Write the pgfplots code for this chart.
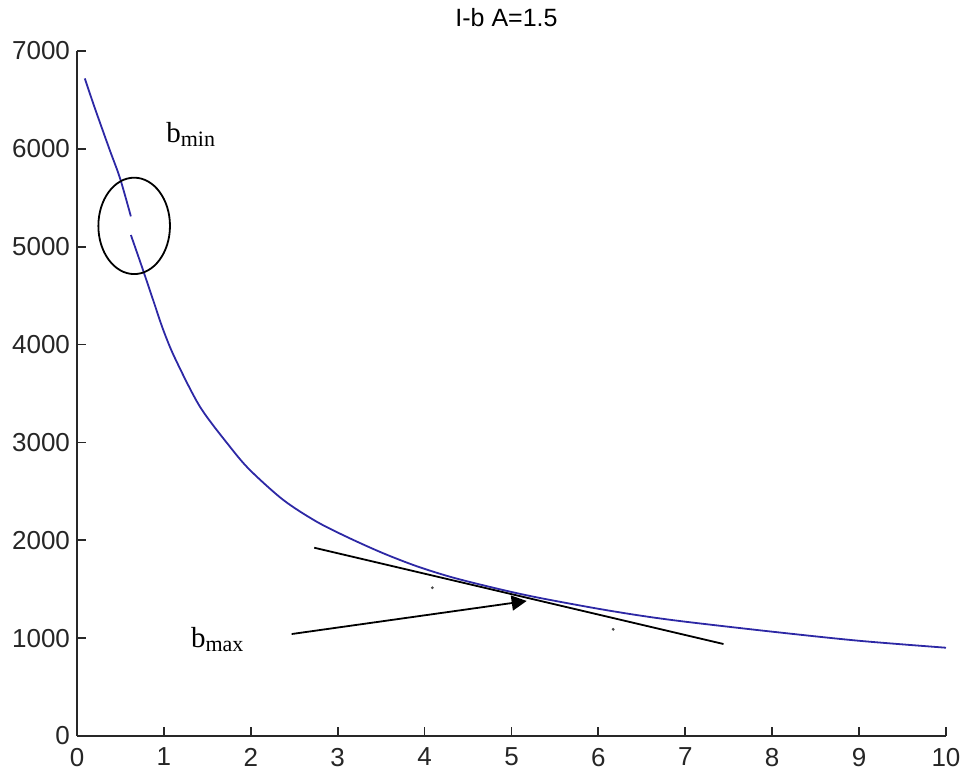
\documentclass[border=0pt]{standalone}
\usepackage{pgfplots}
\pgfplotsset{compat=1.18}
\usepackage{fontspec}
\setmainfont{Liberation Serif}
\newfontfamily\sans{Liberation Sans}
\usetikzlibrary{arrows.meta}
\definecolor{curveblue}{RGB}{45,40,165}
\definecolor{axgray}{RGB}{40,40,40}
\begin{document}
\begin{tikzpicture}
\useasboundingbox (-38.5pt,-17.5pt) rectangle (441.5pt,368pt);
\begin{axis}[
  scale only axis,
  width=434.5pt, height=342.5pt,
  xmin=0, xmax=10, ymin=0, ymax=7000,
  axis x line=bottom, axis y line=left,
  axis line style={-, axgray, line width=0.9pt},
  xtick={0,1,...,10}, ytick={0,1000,...,7000},
  tick align=inside,
  major tick length=4.5pt,
  tick style={axgray, line width=0.9pt},
  ticklabel style={font=\sans\fontsize{13}{14}\selectfont, text=black!85},
  /pgf/number format/assume math mode=true,
  /pgf/number format/1000 sep={},
  scaled y ticks=false,
  xticklabel style={yshift=-2.5pt},
  title={\sans\fontsize{12.5}{14}\selectfont I-b A=1.5},
  title style={at={(0.5,1)}, anchor=center, yshift=10.5pt, xshift=-2.5pt},
  clip=false,
]
\addplot[curveblue, line width=0.9pt, smooth] coordinates {
(0.09,6720) (0.2,6430) (0.372,6000) (0.495,5700) (0.62,5310)
};
\addplot[curveblue, line width=0.9pt, smooth] coordinates {
(0.62,5120) (0.745,4800) (0.88,4445) (0.993,4149) (1.128,3860) (1.415,3365)
(1.76,2956) (1.99,2718) (2.374,2412) (2.758,2190) (3.14,2020) (3.525,1867)
(3.909,1735) (4.29,1628) (4.675,1540) (5.06,1460) (5.405,1397) (6.0,1300)
(6.5,1228) (7.0,1168) (8.0,1066) (9.0,973) (10.0,902)
};
\addplot[only marks, mark=*, mark size=0.5pt, black!70] coordinates {(4.09,1515) (6.17,1090)};
% annotations
\draw[black, line width=0.9pt] (axis cs:0.658,5213) ellipse [x radius=17.9pt, y radius=24.1pt];
\draw[black, line width=0.9pt] (axis cs:2.73,1924) -- (axis cs:7.44,940);
\draw[black, line width=0.9pt, -{Triangle[length=7.5pt,width=7.5pt]}] (axis cs:2.47,1042) -- (axis cs:5.175,1380);
\node[anchor=base west, inner sep=0pt] at (axis cs:1.024,6060) {\fontsize{14.5}{17}\selectfont b\raisebox{-2pt}{\fontsize{11}{12}\selectfont min}};
\node[anchor=base west, inner sep=0pt] at (axis cs:1.308,906) {\fontsize{14.5}{17}\selectfont b\raisebox{-2pt}{\fontsize{11}{12}\selectfont max}};
\end{axis}
\end{tikzpicture}
\end{document}
